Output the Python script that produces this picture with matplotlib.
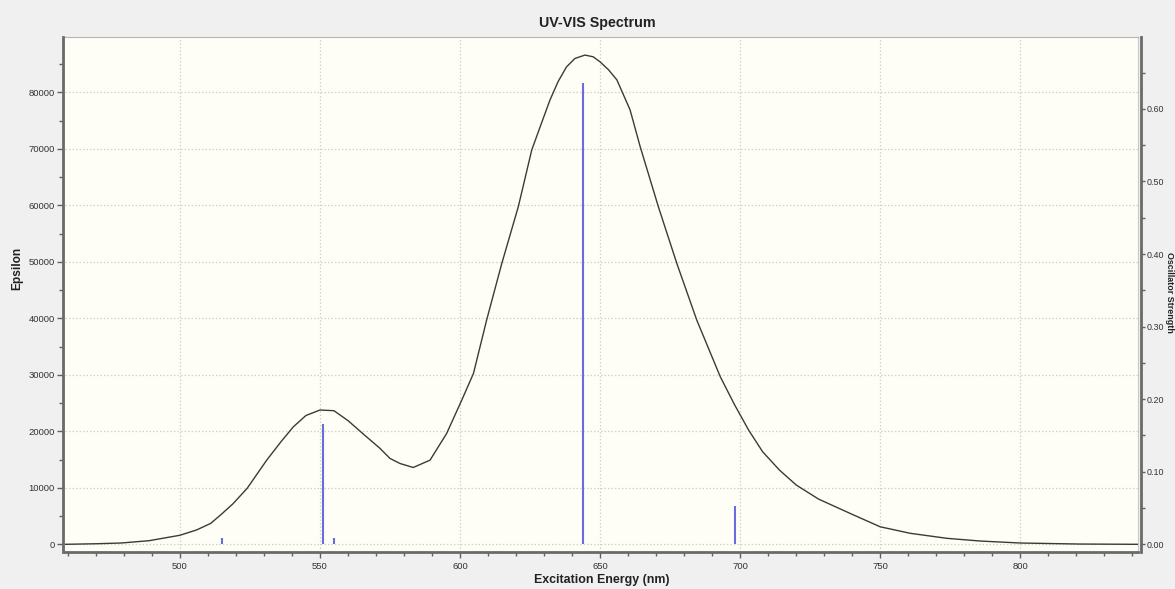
import matplotlib
matplotlib.use("Agg")
import matplotlib.pyplot as plt
from matplotlib.ticker import MultipleLocator, FormatStrFormatter

# ---- data ----
curve_nm = [459, 470, 479, 489, 500, 506, 511, 515, 519, 524, 531, 536, 540.5, 545, 550, 555,
            560, 566.7, 571.4, 575, 578.6, 583.3, 589.3, 595.2, 600.6, 604.8, 609.5,
            614.9, 620.8, 625.6, 628.6, 632.1, 635, 638, 641, 644.6, 647.5, 650, 653,
            656, 660.7, 664.3, 670.8, 677.4, 684.5, 692.9, 698, 703, 708, 714, 720,
            728, 740, 750, 760.7, 773.8, 785.7, 800, 821, 842]
curve_eps = [0, 100, 230, 640, 1600, 2550, 3700, 5400, 7200, 9900, 14900, 18100, 20800, 22800, 23770, 23650,
             21900, 19000, 17000, 15200, 14300, 13600, 14900, 19600, 25500, 30250, 39700,
             49700, 59750, 69800, 73900, 78640, 81900, 84500, 86000, 86600, 86300, 85400, 84000,
             82200, 76900, 70400, 59750, 49700, 39700, 29660, 24700, 20230, 16400, 13150, 10500,
             8000, 5300, 3100, 1950, 1060, 580, 230, 50, 0]

stick_nm = [515, 551, 555, 644, 698]
stick_f = [0.009, 0.166, 0.009, 0.635, 0.053]

title = "UV-VIS Spectrum"
xlabel = "Excitation Energy (nm)"
ylabel_left = "Epsilon"
ylabel_right = "Oscillator Strength"

# ---- figure ----
W, H = 1175, 589
fig = plt.figure(figsize=(W / 100, H / 100), dpi=100, facecolor="#f0f0f0")
plt.rcParams["font.family"] = ["Liberation Sans", "DejaVu Sans"]

L, R, T, B = 65, 1138, 37, 552
ax = fig.add_axes([L / W, 1 - B / H, (R - L) / W, (B - T) / H])
ax.set_facecolor("#fefef6")
ax.set_xlim(459, 842)
ax.set_ylim(-1360, 89800)

ax.plot(curve_nm, curve_eps, color="#3a3a3a", lw=1.0, zorder=3,
        solid_joinstyle="round")

ax2 = ax.twinx()
ax2.set_ylim(-0.0106, 0.699)
ax2.vlines(stick_nm, 0, stick_f, color="#6b6bdd", lw=1.5, zorder=4)

# grid
ax.xaxis.set_major_locator(MultipleLocator(50))
ax.xaxis.set_minor_locator(MultipleLocator(10))
ax.yaxis.set_major_locator(MultipleLocator(10000))
ax.yaxis.set_minor_locator(MultipleLocator(5000))
ax.grid(True, which="major", color="#d2d2cc", ls=(0, (1.2, 1.6)), lw=0.9)
ax.set_axisbelow(True)

ax2.yaxis.set_major_locator(MultipleLocator(0.1))
ax2.yaxis.set_minor_locator(MultipleLocator(0.05))
ax2.yaxis.set_major_formatter(FormatStrFormatter("%.2f"))

tick_col = "#333333"
ax.tick_params(axis="both", which="major", direction="out", length=4.3, width=1,
               color="#606060", labelsize=6.8, labelcolor=tick_col, pad=1.5)
ax.tick_params(axis="both", which="minor", direction="out", length=3, width=1,
               color="#606060")
ax.tick_params(axis="x", which="major", pad=3)
ax2.tick_params(axis="y", which="major", direction="out", length=3.2, width=1,
                color="#606060", labelsize=6.4, labelcolor=tick_col, pad=0.4)
ax2.tick_params(axis="y", which="minor", direction="out", length=2.6, width=1,
                color="#606060")

# spines
for s in ("left", "bottom"):
    ax.spines[s].set_color("#6a6a6a")
    ax.spines[s].set_linewidth(2)
ax.spines["left"].set_position(("outward", 1.5))
ax.spines["top"].set_color("#b4b4b4")
ax.spines["top"].set_linewidth(0.8)
ax.spines["right"].set_color("#c8c8c8")
ax.spines["right"].set_linewidth(0.8)
for s in ("left", "top", "bottom"):
    ax2.spines[s].set_visible(False)
ax2.spines["right"].set_color("#6a6a6a")
ax2.spines["right"].set_linewidth(2)
ax2.spines["right"].set_position(("outward", 2.5))

# texts
fig.text(597 / W, 1 - 23 / H, title, ha="center", va="center",
         fontsize=10.3, fontweight="bold", color="#222222")
fig.text(602 / W, 1 - 580 / H, xlabel, ha="center", va="center",
         fontsize=8.9, fontweight="bold", color="#222222")
fig.text(17 / W, 1 - 268 / H, ylabel_left, ha="center", va="center",
         rotation=90, fontsize=8.6, fontweight="bold", color="#222222")
fig.text(1169.9 / W, 1 - 292 / H, ylabel_right, ha="center", va="center",
         rotation=270, fontsize=6.4, fontweight="bold", color="#222222")

fig.savefig("out.png", dpi=100, facecolor=fig.get_facecolor())
